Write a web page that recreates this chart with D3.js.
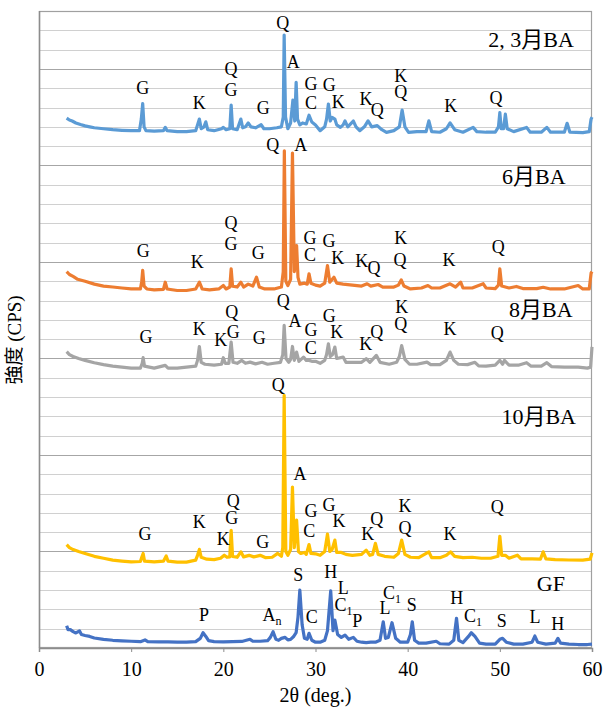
<!DOCTYPE html>
<html>
<head>
<meta charset="utf-8">
<script src="https://cdn.jsdelivr.net/npm/d3@7"></script>
<style>
  body { margin: 0; background: #fff; }
  svg { display: block; }
</style>
</head>
<body>
<div id="graph"></div>
<script>
// 2θ (deg.) axis
const xTicks = [0, 10, 20, 30, 40, 50, 60];

// series names
const seriesNames = ["2, 3月BA", "6月BA", "8月BA", "10月BA", "GF"];

// intensity (offset, arbitrary units), [2θ, I]
const ba23 = [[3.0,27.45],[3.3,27.35],[3.6,27.3],[4.0,27.2],[4.5,27.12],[5.0,27.05],[5.5,27.0],[6.0,26.95],[7.0,26.9],[8.0,26.85],[9.0,26.82],[10.0,26.8],[10.9,26.8],[11.1,27.4],[11.25,28.2],[11.4,27.0],[11.6,26.8],[12.5,26.78],[13.5,26.8],[13.7,26.97],[13.9,26.8],[15.0,26.75],[16.0,26.75],[17.0,26.8],[17.2,27.1],[17.4,27.4],[17.6,26.9],[17.9,27.0],[18.1,27.26],[18.3,26.85],[19.0,26.8],[19.8,26.9],[20.0,26.97],[20.3,26.85],[20.7,26.9],[20.85,28.13],[21.0,26.9],[21.5,26.85],[21.9,27.4],[22.1,26.95],[22.4,27.0],[22.7,27.2],[23.0,27.0],[23.5,26.95],[24.1,27.11],[24.4,26.9],[25.0,26.9],[25.8,26.95],[26.3,27.0],[26.5,27.5],[26.6,31.75],[26.75,27.5],[27.0,26.9],[27.3,27.2],[27.55,28.39],[27.75,27.3],[27.9,29.3],[28.05,27.4],[28.3,27.1],[28.6,27.2],[29.0,27.15],[29.3,27.6],[29.6,27.25],[30.0,27.1],[30.5,26.8],[31.0,27.0],[31.2,27.4],[31.4,28.18],[31.6,27.3],[31.8,27.49],[32.1,27.4],[32.3,27.1],[32.7,26.97],[33.0,27.1],[33.2,27.3],[33.5,27.0],[34.1,27.3],[34.4,27.0],[34.8,26.8],[35.3,27.0],[35.7,27.31],[36.1,27.0],[36.7,27.06],[37.2,26.85],[37.7,26.71],[38.5,26.8],[39.1,27.0],[39.4,27.87],[39.7,27.0],[40.1,26.71],[41.0,26.75],[42.0,26.75],[42.3,27.31],[42.6,26.75],[43.5,26.72],[44.2,26.9],[44.6,27.2],[45.1,26.85],[46.0,26.72],[47.1,26.97],[47.5,26.75],[48.5,26.72],[49.5,26.72],[49.85,27.0],[50.0,27.74],[50.15,26.9],[50.4,26.9],[50.6,27.66],[50.8,26.9],[51.5,26.75],[52.9,26.97],[53.3,26.72],[54.5,26.72],[55.1,26.97],[55.5,26.72],[57.0,26.72],[57.3,27.18],[57.6,26.72],[59.0,26.7],[59.7,26.75],[59.9,27.4],[60.0,27.5]];

const ba6 = [[3.0,19.5],[3.3,19.35],[3.7,19.25],[4.2,19.1],[5.0,19.0],[6.0,18.85],[7.0,18.75],[8.0,18.7],[9.0,18.65],[10.0,18.6],[11.0,18.6],[11.15,19.0],[11.25,19.56],[11.4,18.75],[11.7,18.6],[12.5,18.55],[13.5,18.58],[13.7,18.95],[13.9,18.6],[15.0,18.52],[16.0,18.52],[17.0,18.6],[17.4,18.95],[17.7,18.6],[18.5,18.55],[19.5,18.6],[20.0,18.78],[20.3,18.6],[20.7,18.7],[20.85,19.64],[21.0,18.75],[21.5,18.7],[21.9,18.95],[22.2,18.7],[22.7,18.85],[23.2,18.75],[23.6,19.21],[23.9,18.7],[24.5,18.6],[25.5,18.6],[26.3,18.7],[26.5,19.5],[26.62,25.76],[26.78,19.0],[27.0,18.78],[27.3,19.1],[27.5,25.64],[27.7,19.5],[27.95,20.85],[28.1,19.2],[28.3,18.85],[28.8,18.9],[29.1,18.85],[29.3,19.38],[29.5,18.9],[30.0,18.8],[30.5,18.75],[31.0,18.9],[31.3,19.81],[31.55,18.95],[32.0,19.21],[32.3,18.9],[33.0,18.85],[34.0,18.8],[35.0,18.75],[35.6,18.87],[36.0,18.75],[36.8,18.83],[37.3,18.7],[38.5,18.7],[39.0,18.8],[39.3,19.07],[39.6,18.75],[40.3,18.6],[41.5,18.65],[42.2,18.78],[42.6,18.65],[43.5,18.65],[44.6,18.87],[45.2,18.7],[45.75,18.95],[46.0,18.65],[47.0,18.65],[48.2,18.87],[48.5,18.65],[49.5,18.62],[49.85,18.8],[50.0,19.64],[50.2,18.75],[51.0,18.65],[51.8,18.73],[52.5,18.62],[54.0,18.62],[54.7,18.69],[55.5,18.6],[57.0,18.6],[58.5,18.78],[59.0,18.6],[59.7,18.6],[59.9,19.42],[60.0,19.5]];

const ba8 = [[3.0,15.35],[3.3,15.2],[3.7,15.1],[4.3,15.0],[5.0,14.9],[6.0,14.78],[7.0,14.68],[8.0,14.6],[9.0,14.55],[10.0,14.5],[11.0,14.5],[11.2,14.75],[11.3,15.04],[11.45,14.6],[12.5,14.5],[13.7,14.64],[14.0,14.5],[15.0,14.5],[16.0,14.55],[17.0,14.6],[17.2,14.9],[17.4,15.62],[17.6,14.8],[18.0,14.7],[19.0,14.65],[19.8,14.7],[20.0,15.04],[20.2,14.75],[20.6,14.75],[20.85,15.85],[21.05,14.8],[21.5,14.75],[22.0,14.9],[22.4,14.75],[22.9,14.81],[23.5,14.72],[24.2,14.8],[24.8,14.7],[25.5,14.75],[26.2,14.8],[26.45,15.2],[26.6,16.71],[26.8,15.0],[27.1,14.8],[27.3,14.95],[27.5,15.62],[27.7,14.9],[27.95,15.33],[28.2,14.85],[28.7,15.07],[29.0,14.9],[29.3,14.9],[29.6,14.85],[30.0,14.85],[30.5,14.75],[31.0,14.9],[31.2,15.2],[31.4,15.76],[31.6,15.1],[31.85,15.2],[32.1,15.59],[32.3,15.0],[33.0,15.07],[33.3,14.8],[34.0,14.8],[35.0,14.8],[35.5,14.99],[35.9,14.8],[36.6,15.16],[37.0,14.8],[38.0,14.7],[38.8,14.8],[39.1,15.1],[39.35,15.67],[39.7,14.95],[40.2,14.7],[41.0,14.7],[42.1,14.81],[42.5,14.68],[43.5,14.68],[44.2,14.9],[44.6,15.33],[45.0,14.9],[45.5,14.7],[46.5,14.68],[47.3,14.8],[47.7,14.62],[48.5,14.6],[49.5,14.65],[50.0,14.9],[50.3,14.7],[50.5,14.9],[51.0,14.65],[52.0,14.65],[52.9,14.78],[53.4,14.6],[54.5,14.6],[55.1,14.78],[55.6,14.58],[57.0,14.55],[58.5,14.55],[59.5,14.5],[59.85,14.55],[60.0,15.6]];

const ba10 = [[3.0,5.35],[3.3,5.2],[3.7,5.1],[4.3,5.0],[5.0,4.9],[6.0,4.75],[7.0,4.65],[8.0,4.55],[9.0,4.5],[10.0,4.46],[11.0,4.48],[11.15,4.7],[11.3,4.9],[11.45,4.5],[12.5,4.46],[13.5,4.5],[13.8,4.77],[14.0,4.5],[15.0,4.45],[16.0,4.45],[17.0,4.55],[17.2,4.8],[17.4,5.11],[17.6,4.7],[18.2,4.6],[19.0,4.58],[19.7,4.65],[20.1,4.81],[20.4,4.7],[20.7,4.72],[20.85,6.1],[21.0,4.75],[21.5,4.7],[21.9,4.98],[22.2,4.72],[22.8,4.8],[23.3,4.72],[24.0,4.8],[24.6,4.68],[25.3,4.7],[25.9,4.9],[26.3,4.75],[26.45,5.2],[26.6,13.09],[26.78,5.0],[27.0,4.8],[27.3,5.1],[27.5,8.34],[27.7,5.2],[27.95,6.62],[28.15,5.0],[28.4,4.9],[28.8,4.95],[29.0,4.85],[29.3,5.36],[29.5,4.9],[30.0,4.88],[30.5,4.8],[31.0,5.0],[31.3,5.9],[31.55,5.0],[31.8,5.1],[32.1,5.59],[32.3,4.95],[32.8,4.95],[33.3,4.85],[34.0,4.8],[35.0,4.85],[35.5,5.07],[35.9,4.8],[36.2,4.85],[36.5,5.42],[36.8,4.85],[37.5,4.75],[38.5,4.7],[39.0,4.9],[39.35,5.59],[39.7,4.85],[40.3,4.7],[41.2,4.68],[42.3,4.98],[42.6,4.68],[43.5,4.68],[44.2,4.8],[44.65,4.98],[45.1,4.75],[46.0,4.68],[47.0,4.7],[48.0,4.65],[49.0,4.65],[49.8,4.75],[50.0,5.79],[50.2,4.8],[50.6,4.8],[51.0,4.65],[51.9,4.81],[52.3,4.62],[53.5,4.62],[54.4,4.6],[54.7,4.98],[55.0,4.62],[56.0,4.58],[57.5,4.56],[59.0,4.55],[59.8,4.6],[60.0,4.93]];

const gf = [[3.0,1.15],[3.15,0.95],[3.4,0.95],[3.7,0.85],[4.0,0.78],[4.4,0.88],[4.6,0.7],[5.0,0.65],[5.5,0.6],[6.0,0.52],[7.0,0.45],[8.0,0.4],[9.0,0.37],[10.0,0.35],[11.0,0.33],[11.5,0.42],[11.8,0.33],[13.0,0.32],[14.0,0.32],[15.0,0.3],[16.0,0.3],[17.0,0.33],[17.5,0.5],[17.8,0.79],[18.1,0.6],[18.4,0.38],[19.0,0.33],[20.0,0.32],[21.0,0.33],[22.0,0.34],[22.9,0.45],[23.2,0.35],[24.0,0.35],[24.8,0.38],[25.1,0.55],[25.4,0.84],[25.7,0.45],[26.0,0.4],[26.3,0.5],[26.7,0.55],[27.0,0.42],[27.3,0.45],[27.6,0.58],[27.9,0.8],[28.1,1.6],[28.3,3.0],[28.55,1.2],[28.8,0.5],[29.1,0.45],[29.3,0.76],[29.6,0.4],[30.0,0.3],[30.5,0.3],[31.0,0.4],[31.3,0.9],[31.65,2.96],[31.9,0.9],[32.1,1.45],[32.4,0.7],[32.8,0.55],[33.2,0.67],[33.6,0.45],[34.1,0.55],[34.5,0.35],[35.0,0.3],[35.5,0.28],[36.0,0.3],[36.5,0.3],[37.0,0.4],[37.35,1.36],[37.6,0.5],[37.9,0.55],[38.3,1.31],[38.7,0.5],[39.2,0.3],[40.0,0.3],[40.3,0.7],[40.5,1.36],[40.75,0.4],[41.2,0.25],[42.0,0.25],[43.1,0.35],[43.5,0.22],[44.5,0.2],[45.0,0.4],[45.3,1.54],[45.55,0.4],[46.0,0.28],[46.6,0.6],[46.9,0.79],[47.3,0.6],[47.8,0.25],[48.5,0.2],[49.5,0.2],[50.0,0.45],[50.3,0.5],[50.7,0.3],[51.5,0.2],[52.5,0.2],[53.5,0.3],[53.8,0.62],[54.1,0.3],[55.0,0.2],[56.0,0.25],[56.3,0.5],[56.6,0.25],[57.5,0.2],[58.5,0.18],[59.5,0.18],[60.0,0.2]];

// peak labels [2θ, I, letter, subscript]
const ba23Peaks = [[26.44,32.09,"Q"],[27.59,30.07,"A"],[11.25,28.70,"G"],[17.39,27.92,"K"],[20.83,29.69,"Q"],[20.83,28.61,"G"],[24.34,27.66,"G"],[29.51,28.90,"G"],[29.51,27.92,"C"],[31.50,28.87,"G"],[32.47,28.0,"K"],[35.48,28.14,"K"],[36.70,27.57,"Q"],[39.24,29.33,"K"],[39.24,28.49,"Q"],[44.67,27.78,"K"],[49.58,28.18,"Q"]];
const ba6Peaks = [[25.36,25.74,"Q"],[28.39,25.76,"A"],[11.32,20.24,"G"],[17.17,19.67,"K"],[20.83,21.71,"Q"],[20.83,20.64,"G"],[23.79,20.16,"G"],[29.40,20.94,"G"],[29.40,20.07,"C"],[31.46,20.76,"G"],[32.41,19.87,"K"],[35.01,19.73,"K"],[36.35,19.38,"Q"],[39.24,20.94,"K"],[39.17,19.81,"Q"],[44.48,19.81,"K"],[49.83,20.47,"Q"]];
const ba8Peaks = [[26.51,17.66,"Q"],[27.78,16.62,"A"],[11.61,15.79,"G"],[17.39,16.19,"K"],[19.71,15.67,"K"],[20.91,17.11,"Q"],[21.08,16.07,"G"],[23.90,15.73,"G"],[29.51,16.14,"G"],[29.48,15.21,"C"],[31.50,16.88,"G"],[32.30,16.07,"K"],[35.45,15.42,"K"],[36.64,16.07,"Q"],[39.35,17.37,"K"],[39.24,16.45,"Q"],[44.59,16.19,"K"],[49.72,16.02,"Q"]];
const ba10Peaks = [[25.96,13.30,"Q"],[28.32,8.69,"A"],[11.50,5.59,"G"],[17.39,6.22,"K"],[20.0,5.33,"K"],[21.08,7.28,"Q"],[20.91,6.41,"G"],[24.27,5.16,"G"],[29.51,6.79,"G"],[29.33,5.76,"C"],[31.46,7.10,"G"],[32.55,6.28,"K"],[35.66,5.59,"K"],[36.64,6.36,"Q"],[39.71,7.05,"K"],[39.71,5.88,"Q"],[44.59,5.59,"K"],[49.72,6.97,"Q"]];
const gfPeaks = [[17.90,1.40,"P"],[25.29,1.40,"A","n"],[28.13,3.48,"S"],[29.59,1.28,"C"],[31.65,3.61,"H"],[33.01,2.78,"L"],[33.04,1.93,"C","1"],[34.53,1.10,"P"],[37.54,1.74,"L"],[38.30,2.53,"C","1"],[40.44,1.91,"S"],[45.32,2.26,"H"],[47.09,1.33,"C","1"],[50.20,1.07,"S"],[53.81,1.28,"L"],[56.28,0.93,"H"]];

// series name anchor (right end) [2θ, I]
const namePos = [[58.04,31.11],[57.14,24.04],[57.90,17.14],[58.26,11.62],[57.07,2.95]];

const colors = ["#5b9bd5", "#ed7d31", "#a5a5a5", "#ffc000", "#4472c4"];
const seriesData = [ba23, ba6, ba8, ba10, gf];
const seriesPeaks = [ba23Peaks, ba6Peaks, ba8Peaks, ba10Peaks, gfPeaks];

const SERIF = '"Liberation Serif", "Times New Roman", serif';
const FONT = '"Liberation Serif", "Noto Sans CJK JP", serif';

function plot_chart() {
    const W = 610, H = 709;
    const margin = {left: 39, right: 18, top: 11, bottom: 61};
    const width = W - margin.left - margin.right;
    const height = H - margin.top - margin.bottom;

    const svg = d3.select("#graph").append("svg")
        .attr("width", W)
        .attr("height", H)
        .style("font-family", FONT);
    const g = svg.append("g")
        .attr("transform", `translate(${margin.left},${margin.top})`);

    const x = d3.scaleLinear().domain([0, 60]).range([0, width]);
    const y = d3.scaleLinear().domain([0, 33]).range([height, 0]);

    // gridlines, minor every 1 and major every 5
    g.append("g").selectAll("line")
        .data(d3.range(1, 33))
        .enter().append("line")
        .attr("x1", 0).attr("x2", width)
        .attr("y1", d => Math.round(y(d)) + 0.5)
        .attr("y2", d => Math.round(y(d)) + 0.5)
        .attr("stroke", d => d % 5 === 0 ? "#a6a6a6" : "#d0d0d0")
        .attr("stroke-width", d => d % 5 === 0 ? 1.2 : 1);

    // frame
    g.append("rect")
        .attr("x", 0.5).attr("y", 0.5)
        .attr("width", width - 1).attr("height", height - 1)
        .attr("fill", "none")
        .attr("stroke", "#a0a0a0")
        .attr("stroke-width", 1.2);
    g.append("line")
        .attr("x1", 0.5).attr("x2", 0.5)
        .attr("y1", 0).attr("y2", height)
        .attr("stroke", "#8c8c8c").attr("stroke-width", 1.5);

    // x axis
    const xAxis = g.append("g")
        .attr("transform", `translate(0,${height})`)
        .call(d3.axisBottom(x).tickValues(xTicks).tickSize(4).tickPadding(10));
    xAxis.attr("font-family", null);
    xAxis.select(".domain").attr("stroke", "#8c8c8c").attr("stroke-width", 1.5);
    xAxis.selectAll(".tick line").attr("stroke", "#8c8c8c");
    xAxis.selectAll("text")
        .style("font-family", SERIF)
        .style("font-size", "20px")
        .attr("fill", "#000");

    // traces
    const line = d3.line()
        .x(d => x(d[0]))
        .y(d => y(d[1]));

    g.selectAll(".trace")
        .data(seriesData)
        .enter().append("path")
        .attr("class", "trace")
        .attr("d", d => line(d))
        .attr("fill", "none")
        .attr("stroke", (d, i) => colors[i])
        .attr("stroke-width", 3.2)
        .attr("stroke-linejoin", "round");

    // peak letters
    seriesPeaks.forEach(peaks => {
        const t = g.append("g").selectAll("text")
            .data(peaks)
            .enter().append("text")
            .attr("x", d => x(d[0]))
            .attr("y", d => y(d[1]))
            .attr("text-anchor", "middle")
            .style("font-family", SERIF)
            .style("font-size", "18px");
        t.append("tspan").text(d => d[2]);
        t.filter(d => d[3])
            .append("tspan")
            .attr("dy", 4)
            .style("font-size", "12px")
            .text(d => d[3]);
    });

    // series names
    g.append("g").selectAll("text")
        .data(seriesNames)
        .enter().append("text")
        .attr("x", (d, i) => x(namePos[i][0]))
        .attr("y", (d, i) => y(namePos[i][1]))
        .attr("text-anchor", "end")
        .style("font-family", FONT)
        .style("font-size", "22px")
        .text(d => d);

    // axis titles
    svg.append("text")
        .attr("x", margin.left + width / 2)
        .attr("y", 702)
        .attr("text-anchor", "middle")
        .style("font-family", SERIF)
        .style("font-size", "20px")
        .text("2θ (deg.)");

    const yTitle = svg.append("text")
        .attr("transform", "translate(21,340) rotate(-90)")
        .attr("text-anchor", "middle")
        .style("font-size", "19px");
    yTitle.append("tspan")
        .style("font-family", '"Noto Sans CJK JP", sans-serif')
        .text("強度");
    yTitle.append("tspan")
        .style("font-family", SERIF)
        .text(" (CPS)");
}

plot_chart();
</script>
</body>
</html>
